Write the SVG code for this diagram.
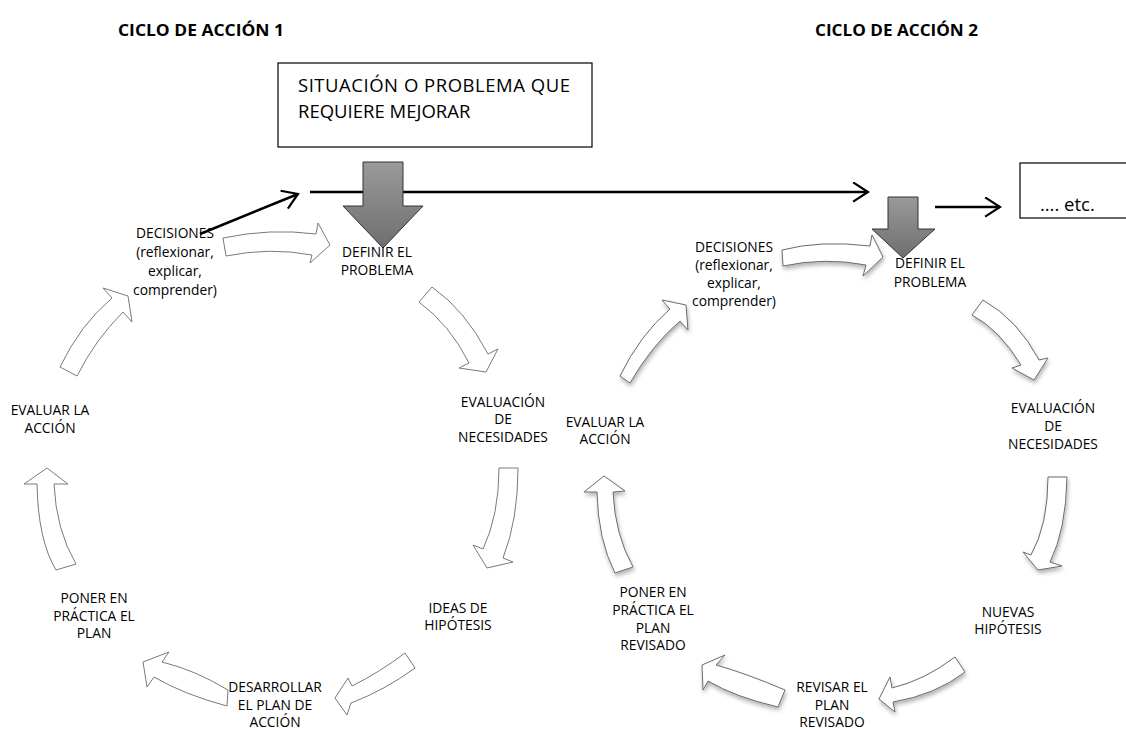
<svg xmlns="http://www.w3.org/2000/svg" width="1126" height="729" viewBox="0 0 1126 729">
  <style>
    .title { font-family: "Open Sans", "Liberation Sans", sans-serif; font-size: 16.5px; font-weight: bold; fill: #000; }
    .lbl { font-family: "Open Sans", "Liberation Sans", sans-serif; font-size: 13.8px; fill: #000; text-anchor: middle; }
    .boxtxt { font-family: "Open Sans", "Liberation Sans", sans-serif; font-size: 18.5px; fill: #000; }
    .box { fill: #fff; stroke: #000; stroke-width: 1.2; }
    .flow { fill: #fff; stroke: #7a7a7a; stroke-width: 1; stroke-linejoin: miter; }
    .flow2 { fill: #fff; stroke: #6a6a6a; stroke-width: 1; filter: url(#shadow); }
    .line { stroke: #000; stroke-width: 2.5; fill: none; marker-end: url(#chev); }
    .big { fill: url(#grayGrad); stroke: #333; stroke-width: 1; }
  </style>
  <defs>
    <marker id="chev" viewBox="0 0 20 24" refX="18" refY="12" markerWidth="18" markerHeight="21" markerUnits="userSpaceOnUse" orient="auto">
      <path d="M1,1 L18,12 L1,23" fill="none" stroke="#000" stroke-width="2.5"/>
    </marker>
    <linearGradient id="grayGrad" x1="0" y1="0" x2="0" y2="1">
      <stop offset="0" stop-color="#9a9a9a"/>
      <stop offset="1" stop-color="#6e6e6e"/>
    </linearGradient>
    <filter id="shadow" x="-30%" y="-30%" width="160%" height="160%">
      <feDropShadow dx="1" dy="3" stdDeviation="2" flood-color="#000" flood-opacity="0.3"/>
    </filter>
  </defs>

  <rect width="1126" height="729" fill="#fff"/>

  <!-- headings -->
  <text class="title" x="118" y="36" textLength="166" lengthAdjust="spacingAndGlyphs">CICLO DE ACCIÓN 1</text>
  <text class="title" x="815" y="36" textLength="163" lengthAdjust="spacingAndGlyphs">CICLO DE ACCIÓN 2</text>

  <!-- starting situation box -->
  <g id="situacion">
    <rect class="box" x="278" y="63" width="314" height="84"/>
    <text class="boxtxt" x="298" y="92" textLength="272" lengthAdjust="spacing">SITUACIÓN O PROBLEMA QUE</text>
    <text class="boxtxt" x="298" y="118">REQUIERE MEJORAR</text>
  </g>

  <!-- continuation box -->
  <g id="etc">
    <rect class="box" x="1020" y="163" width="120" height="55"/>
    <text class="boxtxt" x="1040" y="211">…. etc.</text>
  </g>

  <!-- connectors -->
  <g id="connectors">
    <line class="line" x1="310" y1="192" x2="868" y2="192"/>
    <line class="line" x1="200" y1="234" x2="298" y2="194"/>
    <line class="line" x1="935" y1="207" x2="1000" y2="207"/>

    <!-- entry arrows into each cycle -->
    <path class="big" d="M363,162 L403,162 L403,206 L423,206 L383,248 L343,206 L363,206 Z"/>
    <path class="big" d="M888,197 L918,197 L918,229 L935,229 L903,258 L872,229 L888,229 Z"/>

    <!-- cycle 1 -->
    <path class="flow" d="M223,238 Q270,228 316,234 L318,223 L330,245 L310,263 L312,255 Q270,247 226,256 Z"/>
    <path class="flow" d="M419,302 Q450,325 469,363 L459,368 L486,372 L498,349 L488,354 Q465,310 432,287 Z"/>
    <path class="flow" d="M499,468 Q499,515 483,549 L473,545 L487,568 L513,562 L503,558 Q518,520 518,468 Z"/>
    <path class="flow" d="M405,653 Q380,672 352,686 L348,678 L335,698 L347,715 L351,703 Q385,690 415,668 Z"/>
    <path class="flow" d="M228,690 Q195,670 162,662 L169,652 L143,662 L147,687 L154,677 Q185,695 227,706 Z"/>
    <path class="flow" d="M56,570 Q38,540 37,484 L24,484 L47,468 L68,484 L54,484 Q56,530 76,564 Z"/>
    <path class="flow" d="M60,367 Q80,325 112,298 L103,288 L128,296 L132,322 L123,312 Q95,340 77,376 Z"/>

    <!-- cycle 2 -->
    <path class="flow2" d="M782,250 Q820,240 870,246 L872,235 L883,257 L863,276 L866,265 Q825,257 783,266 Z"/>
    <path class="flow2" d="M972,315 Q1000,330 1021,365 L1012,368 L1034,380 L1048,358 L1039,360 Q1018,320 983,300 Z"/>
    <path class="flow2" d="M1048,477 Q1048,525 1031,555 L1023,552 L1038,570 L1062,566 L1050,562 Q1066,530 1067,477 Z"/>
    <path class="flow2" d="M955,657 Q925,680 892,688 L890,677 L879,699 L895,712 L893,702 Q935,695 965,672 Z"/>
    <path class="flow2" d="M785,690 Q745,673 716,665 L725,655 L702,665 L703,690 L708,681 Q735,697 778,707 Z"/>
    <path class="flow2" d="M615,573 Q598,540 597,492 L584,492 L604,476 L625,491 L613,492 Q615,535 633,567 Z"/>
    <path class="flow2" d="M620,376 Q640,335 670,309 L662,300 L686,305 L688,330 L680,321 Q652,345 630,383 Z"/>
  </g>

  <!-- cycle 1 stages -->
  <g id="c1-decisiones">
    <text class="lbl" x="175" y="238">DECISIONES</text>
    <text class="lbl" x="175" y="257">(reflexionar,</text>
    <text class="lbl" x="175" y="276">explicar,</text>
    <text class="lbl" x="175" y="295">comprender)</text>
  </g>
  <g id="c1-definir">
    <text class="lbl" x="377" y="257">DEFINIR EL</text>
    <text class="lbl" x="377" y="275">PROBLEMA</text>
  </g>
  <g id="c1-evaluacion">
    <text class="lbl" x="503" y="407">EVALUACIÓN</text>
    <text class="lbl" x="503" y="424">DE</text>
    <text class="lbl" x="503" y="442">NECESIDADES</text>
  </g>
  <g id="c1-ideas">
    <text class="lbl" x="458" y="613">IDEAS DE</text>
    <text class="lbl" x="458" y="630">HIPÓTESIS</text>
  </g>
  <g id="c1-desarrollar">
    <text class="lbl" x="275" y="692">DESARROLLAR</text>
    <text class="lbl" x="275" y="710">EL PLAN DE</text>
    <text class="lbl" x="275" y="727">ACCIÓN</text>
  </g>
  <g id="c1-poner">
    <text class="lbl" x="94" y="603">PONER EN</text>
    <text class="lbl" x="94" y="621">PRÁCTICA EL</text>
    <text class="lbl" x="94" y="638">PLAN</text>
  </g>
  <g id="c1-evaluar">
    <text class="lbl" x="50" y="415">EVALUAR LA</text>
    <text class="lbl" x="50" y="433">ACCIÓN</text>
  </g>

  <!-- cycle 2 stages -->
  <g id="c2-decisiones">
    <text class="lbl" x="734" y="252">DECISIONES</text>
    <text class="lbl" x="734" y="270">(reflexionar,</text>
    <text class="lbl" x="734" y="288">explicar,</text>
    <text class="lbl" x="734" y="306">comprender)</text>
  </g>
  <g id="c2-definir">
    <text class="lbl" x="930" y="268">DEFINIR EL</text>
    <text class="lbl" x="930" y="287">PROBLEMA</text>
  </g>
  <g id="c2-evaluacion">
    <text class="lbl" x="1053" y="413">EVALUACIÓN</text>
    <text class="lbl" x="1053" y="431">DE</text>
    <text class="lbl" x="1053" y="449">NECESIDADES</text>
  </g>
  <g id="c2-nuevas">
    <text class="lbl" x="1008" y="617">NUEVAS</text>
    <text class="lbl" x="1008" y="634">HIPÓTESIS</text>
  </g>
  <g id="c2-revisar">
    <text class="lbl" x="832" y="692">REVISAR EL</text>
    <text class="lbl" x="832" y="710">PLAN</text>
    <text class="lbl" x="832" y="727">REVISADO</text>
  </g>
  <g id="c2-poner">
    <text class="lbl" x="653" y="597">PONER EN</text>
    <text class="lbl" x="653" y="615">PRÁCTICA EL</text>
    <text class="lbl" x="653" y="633">PLAN</text>
    <text class="lbl" x="653" y="650">REVISADO</text>
  </g>
  <g id="c2-evaluar">
    <text class="lbl" x="605" y="427">EVALUAR LA</text>
    <text class="lbl" x="605" y="444">ACCIÓN</text>
  </g>
</svg>
